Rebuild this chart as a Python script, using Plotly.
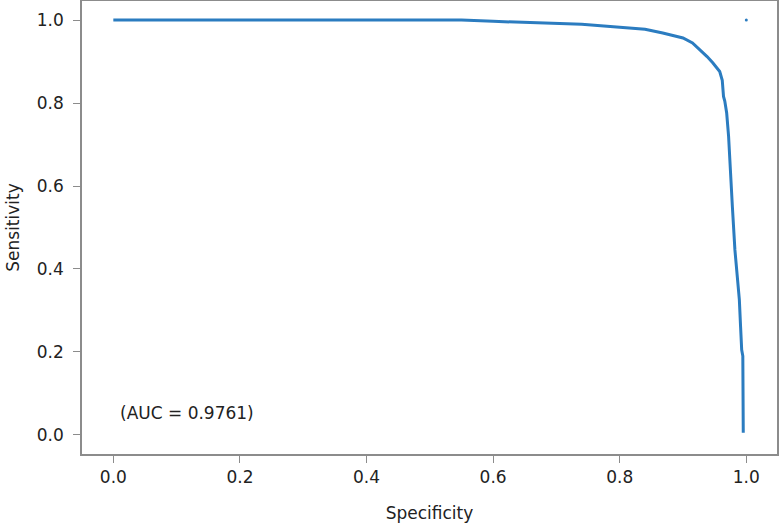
import plotly.graph_objects as go

# ROC curve
specificity = [0.0, 0.55, 0.60, 0.674, 0.74, 0.80, 0.84, 0.868, 0.89, 0.90, 0.915,
               0.927, 0.938, 0.947, 0.953, 0.958, 0.962, 0.964, 0.966, 0.969, 0.972,
               0.974, 0.978, 0.982, 0.986, 0.989, 0.991, 0.9927, 0.9945, 0.9952, 0.9952]
sensitivity = [1.0, 1.0, 0.997, 0.994, 0.99, 0.983, 0.978, 0.969, 0.962, 0.957, 0.945,
               0.928, 0.912, 0.897, 0.886, 0.876, 0.855, 0.816, 0.805, 0.776, 0.72,
               0.656, 0.55, 0.446, 0.38, 0.326, 0.26, 0.205, 0.19, 0.12, 0.005]
stray_point = ([1.0], [1.0])
auc_text = "(AUC = 0.9761)"

txt_font = dict(family="DejaVu Sans", size=17, color="#222222")

fig = go.Figure()
fig.add_trace(go.Scatter(x=specificity, y=sensitivity, mode="lines",
                         line=dict(color="#2b7cc0", width=3), showlegend=False))
fig.add_trace(go.Scatter(x=stray_point[0], y=stray_point[1], mode="markers",
                         marker=dict(color="#2b7cc0", size=3), showlegend=False))

fig.add_annotation(x=0.007, y=0.053, text=auc_text, showarrow=False,
                   xanchor="left", yanchor="middle", font=txt_font)

axis_style = dict(showgrid=False, zeroline=False, showline=True, mirror=True,
                  linecolor="#8c8c8c", linewidth=1.5, ticks="outside", ticklen=7,
                  tickcolor="#8c8c8c", tickwidth=1, tickformat=".1f",
                  tickfont=txt_font, automargin=False,
                  tickvals=[0, 0.2, 0.4, 0.6, 0.8, 1.0])

fig.update_xaxes(range=[-0.0495, 1.0485],
                 title=dict(text="Specificity", standoff=21, font=txt_font),
                 **axis_style)
fig.update_yaxes(range=[-0.046, 1.046], ticklabelstandoff=6,
                 title=dict(text="Sensitivity", standoff=13, font=txt_font),
                 **axis_style)

fig.update_layout(width=781, height=526, plot_bgcolor="white", paper_bgcolor="white",
                  margin=dict(l=82, r=4, t=1, b=72), hovermode=False)

# drop the page's default body margin so the figure sits at the top-left corner
fig.write_html("out.html", config={"displayModeBar": False},
               post_script="document.body.style.margin='0px';")
